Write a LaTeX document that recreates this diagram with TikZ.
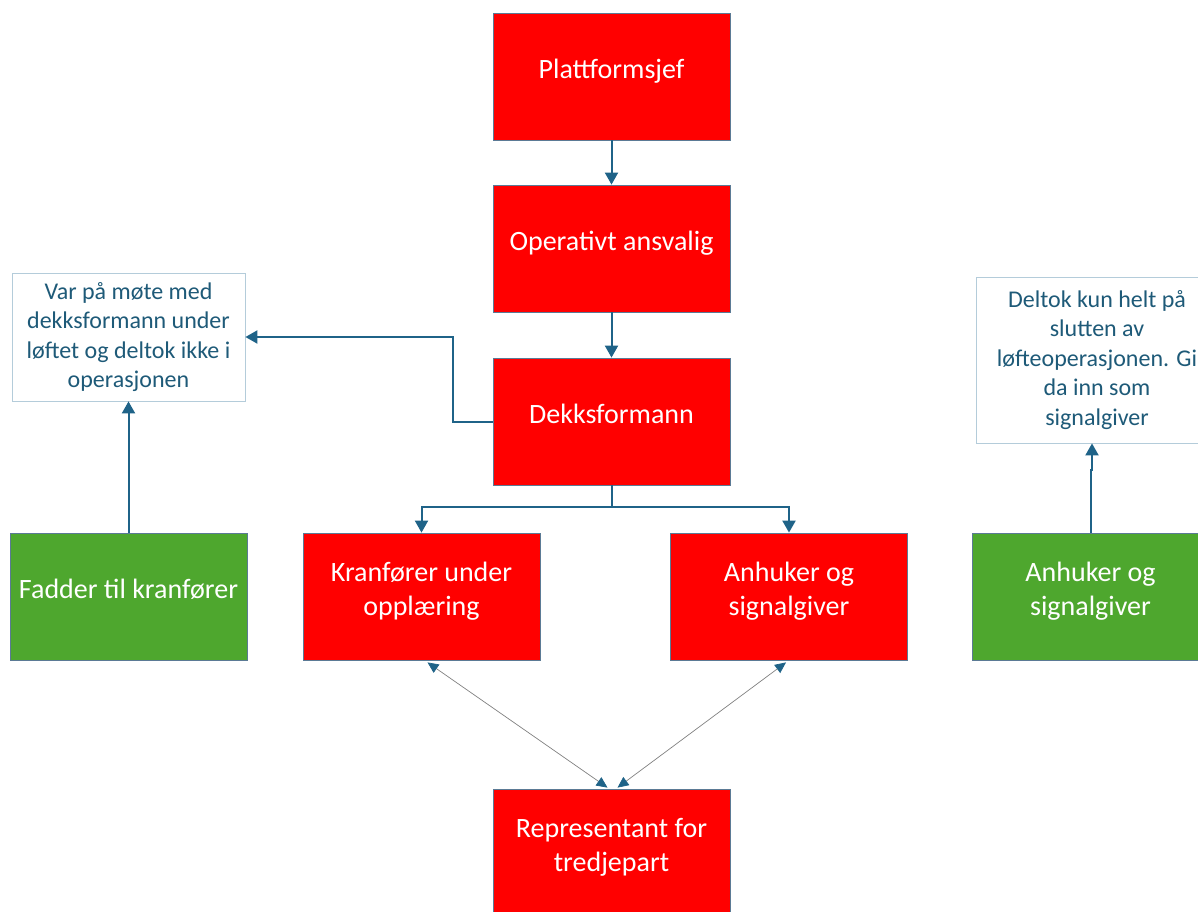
\documentclass[tikz,border=0pt]{standalone}
\usepackage{fontspec}
\setmainfont{Carlito}
\usetikzlibrary{arrows.meta,calc}
\definecolor{boxred}{HTML}{FF0000}
\definecolor{boxgreen}{HTML}{4EA72E}
\definecolor{arrowblue}{HTML}{1F6388}
\definecolor{notetext}{HTML}{1E5A78}
\definecolor{noteborder}{HTML}{B4CCDA}
\definecolor{boxborder}{HTML}{5B7A95}
\newcommand{\boxlines}[1]{\raisebox{0pt}[\height][\dimexpr\depth+10pt\relax]{\begin{tabular}{@{}c@{}}#1\end{tabular}}}
\tikzset{
  redbox/.style={fill=boxred, draw=boxborder, line width=0.8pt, minimum width=237pt, minimum height=127pt,
    inner sep=0pt, text=white, font=\fontsize{28}{34}\selectfont},
  greenbox/.style={redbox, fill=boxgreen},
  notebox/.style={fill=white, draw=noteborder, line width=0.8pt, inner sep=0pt, text=notetext,
    align=center, font=\fontsize{24}{29.5}\selectfont},
  conn/.style={draw=arrowblue, line width=2pt, -{Triangle[width=13pt,length=12pt]}},
  dconn/.style={draw=gray, line width=0.7pt, {Triangle[width=10pt,length=11pt,color=arrowblue]}-{Triangle[width=10pt,length=11pt,color=arrowblue]}},
}
\begin{document}
\begin{tikzpicture}[x=1pt,y=-1pt]
\useasboundingbox (0,0) rectangle (1198,911);
\node[redbox] (plat) at (611.5,76.5) {\boxlines{Plattformsjef}};
\node[redbox] (oper) at (611.5,248.5) {\boxlines{Operativt ansvalig}};
\node[redbox] (dekk) at (611.5,421.5) {\boxlines{Dekksformann}};
\node[redbox] (kran) at (421.5,596.5) {\boxlines{Kranfører under\\opplæring}};
\node[redbox] (anh) at (789,596.5) {\boxlines{Anhuker og\\signalgiver}};
\node[greenbox] (fad) at (128.5,596.5) {\boxlines{Fadder til kranfører}};
\node[greenbox] (anh2) at (1090.5,596.5) {\boxlines{Anhuker og\\signalgiver}};
\node[redbox] (rep) at (611.5,852.5) {\boxlines{Representant for\\tredjepart}};
\node[notebox, minimum width=233pt, minimum height=128pt] (note1) at (128.5,337) {Var på møte med\\dekksformann under\\løftet og deltok ikke i\\operasjonen};
\node[notebox, minimum width=242pt, minimum height=166pt] (note2) at (1097,360) {Deltok kun helt på\\slutten av\\løfteoperasjonen. Gi\\da inn som\\signalgiver};
\coordinate (n2in) at ($(note2.south)+(-5,0)$);
\draw[conn] (plat.south) -- (oper.north);
\draw[conn] (oper.south) -- (dekk.north);
\draw[conn] (dekk.west) -- ++(-40,0) |- (note1.east);
\draw[conn] (dekk.south) -- ++(0,22) -| (kran.north);
\draw[conn] (dekk.south) -- ++(0,22) -| (anh.north);
\draw[conn] (fad.north) -- (note1.south);
\draw[conn] (anh2.north) -- ++(0,-63) -| (n2in);
\draw[dconn] ($(kran.south)+(6,2)$) -- ($(rep.north)+(-4,-1)$);
\draw[dconn] ($(anh.south)+(-3,2)$) -- ($(rep.north)+(6,-1)$);
\end{tikzpicture}
\end{document}
